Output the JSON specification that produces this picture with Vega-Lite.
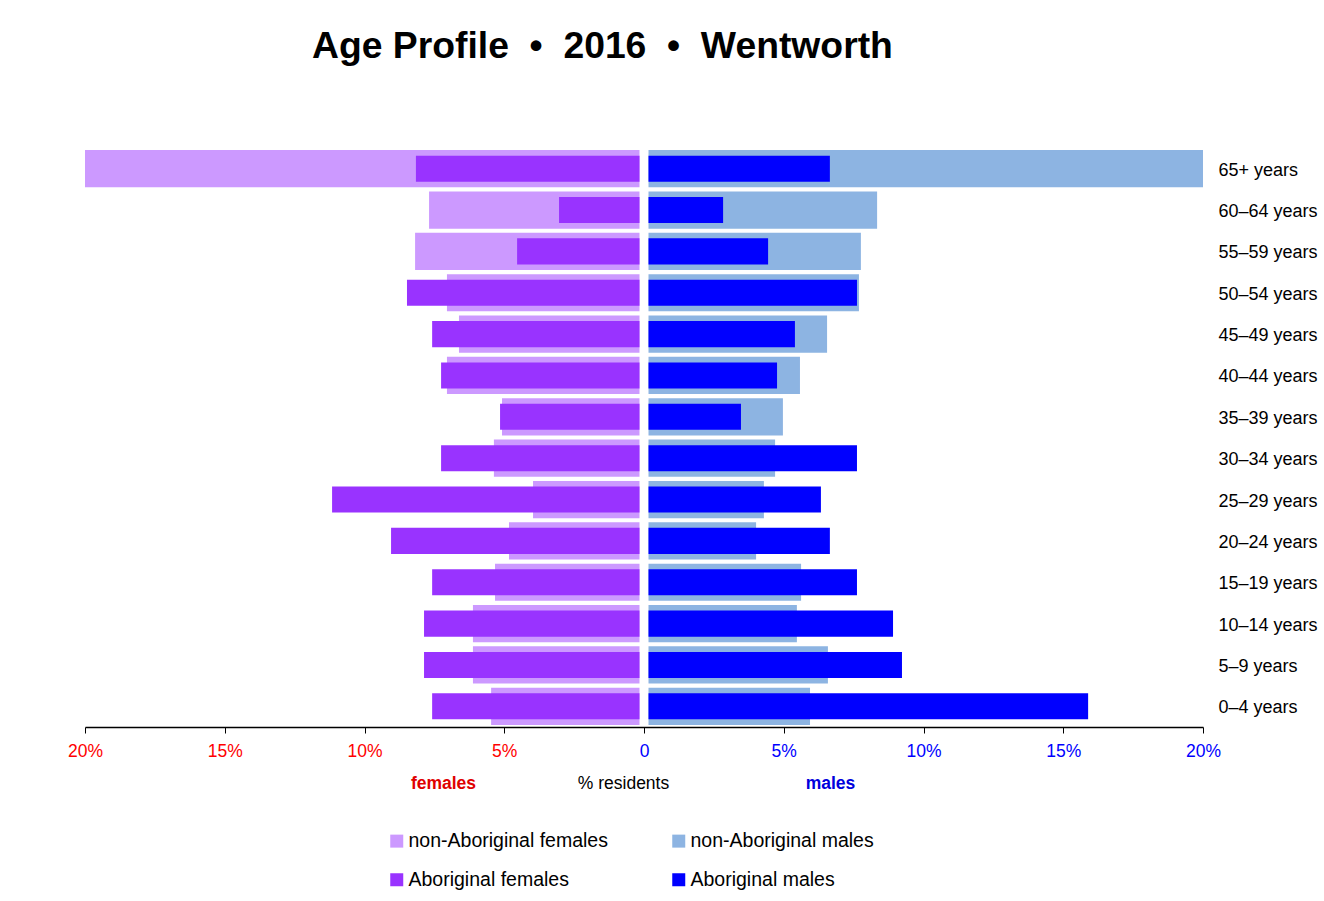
{
  "$schema": "https://vega.github.io/schema/vega-lite/v6.json",
  "autosize": "none",
  "width": 1118,
  "height": 579,
  "padding": {"left": 85, "top": 148, "right": 121, "bottom": 174},
  "background": "white",
  "title": {
    "text": "Age Profile \u00a0•\u00a0 2016 \u00a0•\u00a0 Wentworth",
    "anchor": "start",
    "frame": "group",
    "dx": 227,
    "offset": 53,
    "baseline": "alphabetic",
    "fontSize": 37.3,
    "font": "Liberation Sans",
    "fontWeight": "bold",
    "color": "#000000"
  },
  "config": {"view": {"stroke": null}, "font": "Liberation Sans"},
  "data": {
    "values": [
      {"age": "65+ years", "group": "non-Aboriginal females", "value": -20},
      {"age": "60–64 years", "group": "non-Aboriginal females", "value": -7.69},
      {"age": "55–59 years", "group": "non-Aboriginal females", "value": -8.19},
      {"age": "50–54 years", "group": "non-Aboriginal females", "value": -7.05},
      {"age": "45–49 years", "group": "non-Aboriginal females", "value": -6.62},
      {"age": "40–44 years", "group": "non-Aboriginal females", "value": -7.05},
      {"age": "35–39 years", "group": "non-Aboriginal females", "value": -5.08},
      {"age": "30–34 years", "group": "non-Aboriginal females", "value": -5.37},
      {"age": "25–29 years", "group": "non-Aboriginal females", "value": -3.97},
      {"age": "20–24 years", "group": "non-Aboriginal females", "value": -4.83},
      {"age": "15–19 years", "group": "non-Aboriginal females", "value": -5.33},
      {"age": "10–14 years", "group": "non-Aboriginal females", "value": -6.12},
      {"age": "5–9 years", "group": "non-Aboriginal females", "value": -6.12},
      {"age": "0–4 years", "group": "non-Aboriginal females", "value": -5.47},
      {"age": "65+ years", "group": "Aboriginal females", "value": -8.16},
      {"age": "60–64 years", "group": "Aboriginal females", "value": -3.04},
      {"age": "55–59 years", "group": "Aboriginal females", "value": -4.54},
      {"age": "50–54 years", "group": "Aboriginal females", "value": -8.48},
      {"age": "45–49 years", "group": "Aboriginal females", "value": -7.58},
      {"age": "40–44 years", "group": "Aboriginal females", "value": -7.26},
      {"age": "35–39 years", "group": "Aboriginal females", "value": -5.15},
      {"age": "30–34 years", "group": "Aboriginal females", "value": -7.26},
      {"age": "25–29 years", "group": "Aboriginal females", "value": -11.16},
      {"age": "20–24 years", "group": "Aboriginal females", "value": -9.05},
      {"age": "15–19 years", "group": "Aboriginal females", "value": -7.58},
      {"age": "10–14 years", "group": "Aboriginal females", "value": -7.87},
      {"age": "5–9 years", "group": "Aboriginal females", "value": -7.87},
      {"age": "0–4 years", "group": "Aboriginal females", "value": -7.58},
      {"age": "65+ years", "group": "non-Aboriginal males", "value": 20},
      {"age": "60–64 years", "group": "non-Aboriginal males", "value": 8.34},
      {"age": "55–59 years", "group": "non-Aboriginal males", "value": 7.76},
      {"age": "50–54 years", "group": "non-Aboriginal males", "value": 7.69},
      {"age": "45–49 years", "group": "non-Aboriginal males", "value": 6.55},
      {"age": "40–44 years", "group": "non-Aboriginal males", "value": 5.58},
      {"age": "35–39 years", "group": "non-Aboriginal males", "value": 4.97},
      {"age": "30–34 years", "group": "non-Aboriginal males", "value": 4.69},
      {"age": "25–29 years", "group": "non-Aboriginal males", "value": 4.29},
      {"age": "20–24 years", "group": "non-Aboriginal males", "value": 4.01},
      {"age": "15–19 years", "group": "non-Aboriginal males", "value": 5.62},
      {"age": "10–14 years", "group": "non-Aboriginal males", "value": 5.47},
      {"age": "5–9 years", "group": "non-Aboriginal males", "value": 6.58},
      {"age": "0–4 years", "group": "non-Aboriginal males", "value": 5.94},
      {"age": "65+ years", "group": "Aboriginal males", "value": 6.65},
      {"age": "60–64 years", "group": "Aboriginal males", "value": 2.83},
      {"age": "55–59 years", "group": "Aboriginal males", "value": 4.44},
      {"age": "50–54 years", "group": "Aboriginal males", "value": 7.62},
      {"age": "45–49 years", "group": "Aboriginal males", "value": 5.4},
      {"age": "40–44 years", "group": "Aboriginal males", "value": 4.76},
      {"age": "35–39 years", "group": "Aboriginal males", "value": 3.47},
      {"age": "30–34 years", "group": "Aboriginal males", "value": 7.62},
      {"age": "25–29 years", "group": "Aboriginal males", "value": 6.33},
      {"age": "20–24 years", "group": "Aboriginal males", "value": 6.65},
      {"age": "15–19 years", "group": "Aboriginal males", "value": 7.62},
      {"age": "10–14 years", "group": "Aboriginal males", "value": 8.91},
      {"age": "5–9 years", "group": "Aboriginal males", "value": 9.23},
      {"age": "0–4 years", "group": "Aboriginal males", "value": 15.89}
    ]
  },
  "encoding": {
    "y": {
      "field": "age",
      "type": "nominal",
      "scale": {
        "domain": ["65+ years", "60–64 years", "55–59 years", "50–54 years", "45–49 years", "40–44 years", "35–39 years", "30–34 years", "25–29 years", "20–24 years", "15–19 years", "10–14 years", "5–9 years", "0–4 years"],
        "paddingInner": 0.1,
        "paddingOuter": 0.05
      },
      "axis": {
        "orient": "right",
        "title": null,
        "domain": false,
        "ticks": false,
        "grid": false,
        "labelPadding": 15,
        "labelOffset": 2,
        "labelFontSize": 18,
        "labelColor": "#000000",
        "labelAlign": "left",
        "labelBaseline": "middle",
        "labelFont": "Liberation Sans"
      }
    },
    "color": {
      "field": "group",
      "type": "nominal",
      "scale": {
        "domain": ["non-Aboriginal females", "non-Aboriginal males", "Aboriginal females", "Aboriginal males"],
        "range": ["#cc99ff", "#8db4e2", "#9933ff", "#0000ff"]
      },
      "legend": {
        "orient": "none",
        "legendX": 302,
        "legendY": 683,
        "title": null,
        "columns": 2,
        "direction": "horizontal",
        "symbolType": "square",
        "symbolSize": 169,
        "symbolStrokeWidth": 0,
        "symbolOpacity": 1,
        "labelFontSize": 19.5,
        "labelFont": "Liberation Sans",
        "labelColor": "#000000",
        "labelOffset": 2,
        "columnPadding": 61,
        "rowPadding": 18,
        "padding": 0,
        "labelLimit": 400
      }
    }
  },
  "layer": [
    {
      "transform": [{"filter": "datum.group === 'non-Aboriginal females'"}],
      "mark": {"type": "bar", "x2Offset": -4.5},
      "encoding": {
        "x": {
          "field": "value",
          "type": "quantitative",
          "scale": {"domain": [-20, 20], "nice": false},
          "axis": {
            "orient": "bottom",
            "values": [-20, -15, -10, -5, 0, 5, 10, 15, 20],
            "labelExpr": "datum.value == 0 ? '0' : abs(datum.value) + '%'",
            "labelColor": {"expr": "datum.value < 0 ? '#ff0000' : '#0000ff'"},
            "labelFontSize": 17.5,
            "labelFont": "Liberation Sans",
            "labelPadding": 9,
            "labelFlush": false,
            "labelOverlap": false,
            "tickSize": 6,
            "tickColor": "#000000",
            "domainColor": "#000000",
            "domainWidth": 1.5,
            "grid": false,
            "title": "% residents",
            "titleFont": "Liberation Sans",
            "titleFontSize": 17.5,
            "titleFontWeight": "normal",
            "titleColor": "#000000",
            "titleX": 538,
            "titleY": 56,
            "titleAlign": "center",
            "titleBaseline": "middle",
            "titleAngle": 0
          }
        },
        "x2": {"datum": 0}
      }
    },
    {
      "transform": [{"filter": "datum.group === 'Aboriginal females'"}],
      "mark": {"type": "bar", "x2Offset": -4.5, "height": {"band": 0.7}},
      "encoding": {
        "x": {
          "field": "value",
          "type": "quantitative",
          "scale": {"domain": [-20, 20], "nice": false},
          "axis": {
            "orient": "bottom",
            "labels": false,
            "ticks": false,
            "domain": false,
            "grid": false,
            "title": "females",
            "titleFont": "Liberation Sans",
            "titleFontSize": 17.5,
            "titleFontWeight": "bold",
            "titleColor": "#e00000",
            "titleX": 358,
            "titleY": 56,
            "titleAlign": "center",
            "titleBaseline": "middle",
            "titleAngle": 0
          }
        },
        "x2": {"datum": 0}
      }
    },
    {
      "transform": [{"filter": "datum.group === 'non-Aboriginal males'"}],
      "mark": {"type": "bar", "x2Offset": 4.5},
      "encoding": {
        "x": {
          "field": "value",
          "type": "quantitative",
          "scale": {"domain": [-20, 20], "nice": false},
          "axis": {
            "orient": "bottom",
            "labels": false,
            "ticks": false,
            "domain": false,
            "grid": false,
            "title": "males",
            "titleFont": "Liberation Sans",
            "titleFontSize": 17.5,
            "titleFontWeight": "bold",
            "titleColor": "#0000dd",
            "titleX": 745,
            "titleY": 56,
            "titleAlign": "center",
            "titleBaseline": "middle",
            "titleAngle": 0
          }
        },
        "x2": {"datum": 0}
      }
    },
    {
      "transform": [{"filter": "datum.group === 'Aboriginal males'"}],
      "mark": {"type": "bar", "x2Offset": 4.5, "height": {"band": 0.7}},
      "encoding": {
        "x": {
          "field": "value",
          "type": "quantitative",
          "scale": {"domain": [-20, 20], "nice": false},
          "axis": null
        },
        "x2": {"datum": 0}
      }
    }
  ],
  "resolve": {"axis": {"x": "independent"}}
}
